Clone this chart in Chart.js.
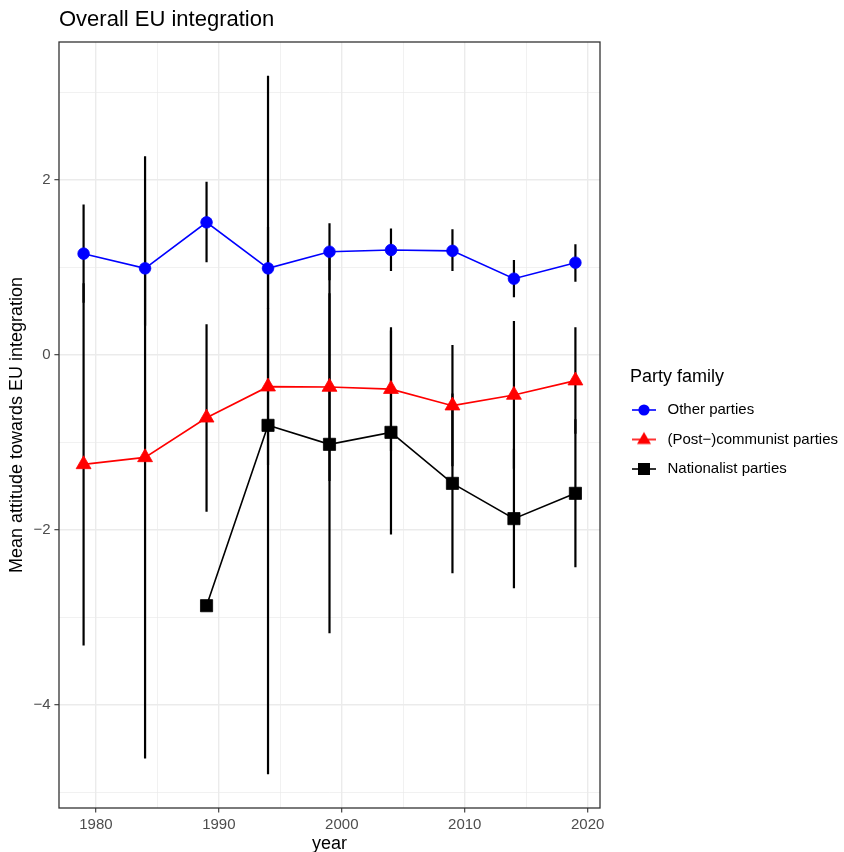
<!DOCTYPE html>
<html>
<head>
<meta charset="utf-8">
<script src="https://cdn.jsdelivr.net/npm/chart.js@4.4.1/dist/chart.umd.min.js"></script>
<style>
  html, body { margin: 0; padding: 0; background: #fff; }
  #wrap { width: 844px; height: 852px; }
</style>
</head>
<body>
<div id="wrap"><canvas id="eu-chart" width="844" height="852"></canvas></div>
<script>
// values
const years = [1979, 1984, 1989, 1994, 1999, 2004, 2009, 2014, 2019];
const natYears = [1989, 1994, 1999, 2004, 2009, 2014, 2019];

const otherMean = [1.158, 0.99, 1.516, 0.99, 1.18, 1.2, 1.19, 0.872, 1.055];
const otherLo = [0.596, 0.335, 1.06, 0.522, 0.855, 0.96, 0.96, 0.66, 0.838];
const otherHi = [1.72, 1.657, 1.98, 1.466, 1.505, 1.447, 1.436, 1.086, 1.265];

const commMean = [-1.25, -1.17, -0.717, -0.362, -0.366, -0.39, -0.579, -0.457, -0.293];
const commLo = [-3.32, -4.61, -1.79, -1.26, -1.44, -1.097, -1.27, -1.30, -0.90];
const commHi = [0.82, 2.27, 0.35, 0.54, 0.705, 0.317, 0.114, 0.389, 0.317];

const natMean = [-2.865, -0.804, -1.021, -0.884, -1.467, -1.87, -1.581];
const natLo = [null, -4.79, -3.18, -2.05, -2.495, -2.667, -2.427];
const natHi = [null, 3.19, 1.14, 0.28, -0.44, -1.07, -0.735];

const seriesNames = ['Other parties', '(Post\u2212)communist parties', 'Nationalist parties'];
const seriesColors = ['#0000ff', '#ff0000', '#000000'];
const seriesShapes = ['circle', 'triangle', 'rect'];

const xTicks = [1980, 1985, 1990, 1995, 2000, 2005, 2010, 2015, 2020];
const yTicks = [-5, -4, -3, -2, -1, 0, 1, 2, 3];

Chart.defaults.font.family = '"Liberation Sans", Arial, Helvetica, sans-serif';

const toPoints = (xs, ys) => xs.map((x, i) => ({ x: x, y: ys[i] }));

// vertical segments separated by null gaps
const errorSegments = function (xs, lo, hi) {
    const pts = [];
    xs.forEach((x, i) => {
        if (lo[i] === null) return;
        pts.push({ x: x, y: lo[i] }, { x: x, y: hi[i] }, { x: x, y: null });
    });
    return pts;
}

const makeKey = function (color, shape) {
    const c = document.createElement('canvas');
    c.width = 28;
    c.height = 18;
    const g = c.getContext('2d');
    g.strokeStyle = color;
    g.fillStyle = color;
    g.lineWidth = 1.6;
    g.beginPath();
    g.moveTo(0, 9);
    g.lineTo(24, 9);
    g.stroke();
    g.beginPath();
    if (shape === 'circle') {
        g.arc(12, 9, 5.6, 0, Math.PI * 2);
    } else if (shape === 'triangle') {
        g.moveTo(12, 1.5);
        g.lineTo(19, 13.5);
        g.lineTo(5, 13.5);
        g.closePath();
    } else {
        g.rect(6, 3, 12, 12);
    }
    g.fill();
    return c;
}

const legendKeys = seriesColors.map((c, i) => makeKey(c, seriesShapes[i]));

const isMajor = (ctx, step) => ctx.tick && Math.abs(ctx.tick.value % step) < 1e-9;

const errorStyle = {
    type: 'line',
    borderColor: '#000',
    borderWidth: 2.2,
    borderCapStyle: 'butt',
    pointRadius: 0,
    spanGaps: false,
    order: 10,
};

const panelBorder = {
    id: 'panelBorder',
    afterDatasetsDraw(chart) {
        const { ctx, chartArea: a } = chart;
        ctx.save();
        ctx.strokeStyle = '#333333';
        ctx.lineWidth = 1.3;
        ctx.strokeRect(a.left, a.top, a.right - a.left, a.bottom - a.top);
        ctx.restore();
    }
};

new Chart(document.getElementById('eu-chart'), {
    type: 'line',
    data: {
        datasets: [
            {
                label: seriesNames[0],
                data: toPoints(years, otherMean),
                borderColor: seriesColors[0],
                backgroundColor: seriesColors[0],
                borderWidth: 1.6,
                pointStyle: 'circle',
                pointRadius: 5.8,
                pointBorderWidth: 0.8,
                order: 3,
            },
            {
                label: seriesNames[1],
                data: toPoints(years, commMean),
                borderColor: seriesColors[1],
                backgroundColor: seriesColors[1],
                borderWidth: 1.6,
                pointStyle: 'triangle',
                pointRadius: 8.6,
                pointBorderWidth: 0.8,
                order: 2,
            },
            {
                label: seriesNames[2],
                data: toPoints(natYears, natMean),
                borderColor: seriesColors[2],
                backgroundColor: seriesColors[2],
                borderWidth: 1.6,
                pointStyle: 'rect',
                pointRadius: 8.6,
                pointBorderWidth: 0.8,
                order: 1,
            },
            Object.assign({ label: 'err-other', data: errorSegments(years, otherLo, otherHi) }, errorStyle),
            Object.assign({ label: 'err-comm', data: errorSegments(years, commLo, commHi) }, errorStyle),
            Object.assign({ label: 'err-nat', data: errorSegments(natYears, natLo, natHi) }, errorStyle),
        ]
    },
    options: {
        responsive: false,
        animation: false,
        devicePixelRatio: 1,
        events: [],
        layout: { padding: 0 },
        scales: {
            x: {
                type: 'linear',
                min: 1977,
                max: 2021,
                afterBuildTicks: ax => { ax.ticks = xTicks.map(v => ({ value: v })); },
                afterFit: s => { s.height = 44; },
                border: { display: false },
                grid: {
                    color: '#ebebeb',
                    lineWidth: ctx => isMajor(ctx, 10) ? 1.4 : 0.7,
                    tickColor: ctx => isMajor(ctx, 10) ? '#333333' : 'rgba(0,0,0,0)',
                    tickLength: 4.6,
                    tickWidth: 1.1,
                },
                ticks: {
                    autoSkip: false,
                    maxRotation: 0,
                    color: '#4d4d4d',
                    font: { size: 15 },
                    padding: 3,
                    callback: v => v % 10 === 0 ? String(v) : '',
                },
                title: {
                    display: true,
                    text: 'year',
                    color: '#000',
                    font: { size: 18 },
                    padding: { top: 0, bottom: -3 },
                },
            },
            y: {
                type: 'linear',
                min: -5.177,
                max: 3.577,
                afterBuildTicks: ax => { ax.ticks = yTicks.map(v => ({ value: v })); },
                afterFit: s => { s.width = 59; },
                border: { display: false },
                grid: {
                    color: '#ebebeb',
                    lineWidth: ctx => isMajor(ctx, 2) ? 1.4 : 0.7,
                    tickColor: ctx => isMajor(ctx, 2) ? '#333333' : 'rgba(0,0,0,0)',
                    tickLength: 4.6,
                    tickWidth: 1.1,
                },
                ticks: {
                    autoSkip: false,
                    color: '#4d4d4d',
                    font: { size: 15 },
                    padding: 3.7,
                    callback: v => v % 2 === 0 ? String(v).replace('-', '\u2212') : '',
                },
                title: {
                    display: true,
                    text: 'Mean attitude towards EU integration',
                    color: '#000',
                    font: { size: 18 },
                    padding: { top: 6, bottom: 0 },
                },
            },
            spacer: {
                type: 'linear',
                position: 'right',
                display: true,
                grid: { display: false },
                ticks: { display: false },
                border: { display: false },
                afterFit: s => { s.width = 30; },
            },
        },
        plugins: {
            tooltip: { enabled: false },
            title: {
                display: true,
                text: 'Overall EU integration',
                align: 'start',
                fullSize: false,
                color: '#000',
                font: { size: 22, weight: 'normal' },
                padding: { top: 7, bottom: 8.6 },
            },
            legend: {
                position: 'right',
                align: 'center',
                maxWidth: 214,
                title: {
                    display: true,
                    text: 'Party family',
                    position: 'start',
                    color: '#000',
                    font: { size: 18 },
                    padding: { top: 7, bottom: 10.9 },
                },
                labels: {
                    usePointStyle: true,
                    pointStyleWidth: 28,
                    padding: 2,
                    color: '#000',
                    font: { size: 15, lineHeight: 27.5 / 15 },
                    generateLabels: () => seriesNames.map((name, i) => ({
                        text: [name],
                        pointStyle: legendKeys[i],
                        fillStyle: seriesColors[i],
                        strokeStyle: seriesColors[i],
                        lineWidth: 0,
                        hidden: false,
                        datasetIndex: i,
                    })),
                },
            },
        },
    },
    plugins: [panelBorder],
});
</script>
</body>
</html>
